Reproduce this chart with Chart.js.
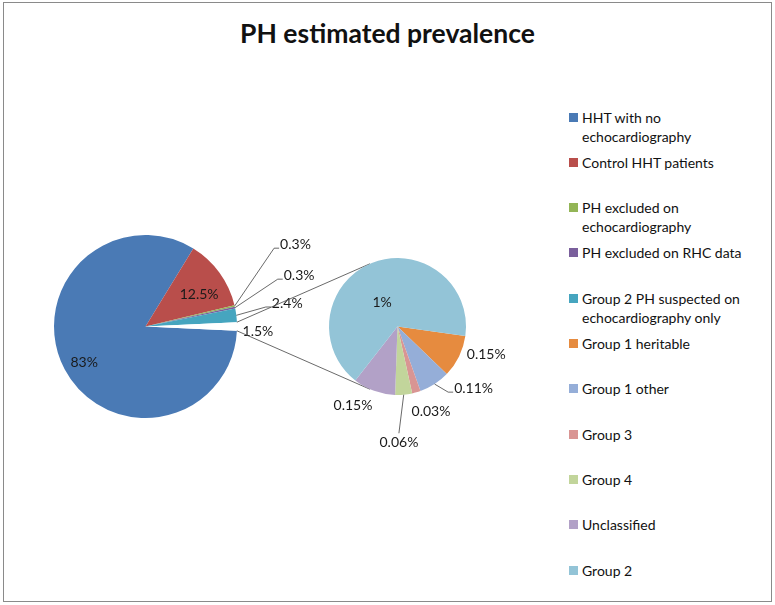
<!DOCTYPE html>
<html>
<head>
<meta charset="utf-8">
<title>PH estimated prevalence</title>
<script src="https://cdn.jsdelivr.net/npm/chart.js@4.4.0/dist/chart.umd.min.js"></script>
<style>
  body { margin: 0; background: #fff; }
  #wrap { position: relative; width: 775px; height: 605px; font-family: Lato, 'Open Sans', sans-serif; color: #111; }
  #frame { position: absolute; left: 3px; top: 2px; width: 767px; height: 598px; border: 1px solid #8a8a8a; }
  canvas { position: absolute; left: 0; top: 0; }
  #title { position: absolute; left: 0; width: 775px; top: 17px; text-align: center; font-weight: bold; font-size: 26.5px; }
  .item { position: absolute; left: 569px; }
  .item .sw { position: absolute; left: 0; top: 5px; width: 9px; height: 9px; }
  .item .tx { margin-left: 13px; max-width: 176px; font-size: 14px; line-height: 19px; }
</style>
</head>
<body>
<div id="wrap">
  <div id="frame"></div>
  <div id="title">PH estimated prevalence</div>
  <div id="legend"></div>
  <canvas id="mainPie" width="775" height="605"></canvas>
  <canvas id="subPie" width="775" height="605"></canvas>
</div>
<script>
// main pie: the last slice is the "other" part split out into the small pie
const mainLabels = ['HHT with no echocardiography', 'Control HHT patients', 'PH excluded on echocardiography',
  'PH excluded on RHC data', 'Group 2 PH suspected on echocardiography only', 'Other'];
const mainValues = [83, 12.5, 0.3, 0.3, 2.4, 1.5];
const mainColors = ['#4a7ab5', '#b94e4b', '#93b556', '#7a5f9c', '#46a5bf', '#ffffff'];

const subLabels = ['Group 1 heritable', 'Group 1 other', 'Group 3', 'Group 4', 'Unclassified', 'Group 2'];
const subValues = [0.15, 0.11, 0.03, 0.06, 0.15, 1];
const subColors = ['#e68b3f', '#95aed8', '#d99593', '#c2d59b', '#b2a1c7', '#93c4d7'];

const otherIndex = 5;

// label placement: [angle shift from slice middle (deg), distance as part of radius, leader type]
const mainPlace = [[-2.8, 0.78], [5.5, 0.68], [-15.8, 1.87, 'elbow'], [-6.6, 1.77, 'elbow'], [-2.4, 1.57, 'elbow'], [2.3, 1.23]];
const subPlace = [[-8.2, 1.36], [-18.2, 1.43, 'elbow'], [-5.4, 1.34], [4.5, 1.69, 'top'], [9.5, 1.32], [-10.3, 0.42]];

// legend (html)
const legendEl = document.getElementById('legend');
const legendNames = mainLabels.slice(0, otherIndex).concat(subLabels);
const legendColors = mainColors.slice(0, otherIndex).concat(subColors);
legendNames.forEach((name, i) => {
  const d = document.createElement('div');
  d.className = 'item';
  d.style.top = (107.5 + i * 45.3) + 'px';
  d.innerHTML = '<div class="sw" style="background:' + legendColors[i] + '"></div><div class="tx">' + name + '</div>';
  legendEl.appendChild(d);
});

const sliceLabels = {
  id: 'sliceLabels',
  afterDatasetsDraw(chart, args, opts) {
    const ctx = chart.ctx;
    const arcs = chart.getDatasetMeta(0).data;
    const values = chart.data.datasets[0].data;
    ctx.save();
    ctx.font = '14px Lato';
    ctx.fillStyle = '#1a1a1a';
    ctx.strokeStyle = '#444';
    ctx.lineWidth = 0.8;
    ctx.textAlign = 'center';
    ctx.textBaseline = 'middle';
    arcs.forEach((arc, i) => {
      const p = opts.place[i];
      const mid = (arc.startAngle + arc.endAngle) / 2;
      const a = mid + p[0] * Math.PI / 180;
      const d = arc.outerRadius * p[1];
      const x = arc.x + Math.cos(a) * d;
      const y = arc.y + Math.sin(a) * d;
      const text = values[i] + '%';
      if (p[2]) {
        const ex = arc.x + Math.cos(mid) * arc.outerRadius;
        const ey = arc.y + Math.sin(mid) * arc.outerRadius;
        ctx.beginPath();
        ctx.moveTo(ex, ey);
        if (p[2] === 'elbow') {
          const left = x - ctx.measureText(text).width / 2;
          ctx.lineTo(left - 6, y + 4);
          ctx.lineTo(left - 1, y + 4);
        } else {
          ctx.lineTo(x, y - 9);
        }
        ctx.stroke();
      }
      ctx.fillText(text, x, y);
    });
    ctx.restore();
  }
};

const chartA = new Chart(document.getElementById('mainPie'), {
  type: 'pie',
  data: {
    labels: mainLabels,
    datasets: [{ data: mainValues, backgroundColor: mainColors, borderWidth: 0 }]
  },
  options: {
    responsive: false,
    animation: false,
    events: [],
    // centre the "other" slice on 3 o'clock
    rotation: 90 + mainValues[otherIndex] / mainValues.reduce((s, v) => s + v, 0) * 180,
    layout: { padding: { left: 54, top: 235, right: 538, bottom: 187 } },
    plugins: {
      legend: { display: false },
      tooltip: { enabled: false },
      sliceLabels: { place: mainPlace }
    }
  },
  plugins: [sliceLabels]
});

// tangent lines from the split-out slice to the second pie
const connectors = {
  id: 'connectors',
  beforeDatasetsDraw(chart) {
    const a = chartA.getDatasetMeta(0).data[otherIndex];
    const b = chart.getDatasetMeta(0).data[0];
    const ctx = chart.ctx;
    ctx.save();
    ctx.strokeStyle = '#444';
    ctx.lineWidth = 0.8;
    [a.startAngle, a.endAngle].forEach((ang, k) => {
      const px = a.x + Math.cos(ang) * a.outerRadius;
      const py = a.y + Math.sin(ang) * a.outerRadius;
      const dx = px - b.x, dy = py - b.y;
      const dist = Math.hypot(dx, dy);
      const base = Math.atan2(dy, dx);
      const off = Math.acos(b.outerRadius / dist);
      const t = k === 0 ? base + off : base - off;
      ctx.beginPath();
      ctx.moveTo(px, py);
      ctx.lineTo(b.x + Math.cos(t) * b.outerRadius, b.y + Math.sin(t) * b.outerRadius);
      ctx.stroke();
    });
    ctx.restore();
  }
};

new Chart(document.getElementById('subPie'), {
  type: 'pie',
  data: {
    labels: subLabels,
    datasets: [{ data: subValues, backgroundColor: subColors, borderWidth: 0 }]
  },
  options: {
    responsive: false,
    animation: false,
    events: [],
    rotation: 98,
    layout: { padding: { left: 329, top: 258, right: 309, bottom: 210 } },
    plugins: {
      legend: { display: false },
      tooltip: { enabled: false },
      sliceLabels: { place: subPlace }
    }
  },
  plugins: [connectors, sliceLabels]
});
</script>
</body>
</html>
